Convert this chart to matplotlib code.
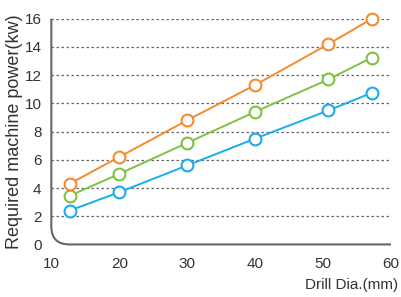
import matplotlib as mpl
mpl.use('agg')
import matplotlib.pyplot as plt
from matplotlib.path import Path
from matplotlib.patches import PathPatch

plt.rcParams['font.family'] = ['Liberation Sans', 'DejaVu Sans']

drill_dia = [12.7, 20, 30, 40, 50.8, 57.2]
power_high = [4.3, 6.2, 8.8, 11.3, 14.2, 16.0]
power_mid = [3.45, 5.0, 7.2, 9.4, 11.7, 13.25]
power_low = [2.4, 3.7, 5.6, 7.5, 9.5, 10.75]

xticks = [10, 20, 30, 40, 50, 60]
yticks = [0, 2, 4, 6, 8, 10, 12, 14, 16]

fig = plt.figure(figsize=(4.01, 2.97), dpi=100)
ax = fig.add_axes([0.128, 0.177, 0.847, 0.76])

ax.set_xlim(10, 60)
ax.set_ylim(0, 16)

for y in yticks[1:]:
    ax.axhline(y, color='#666666', lw=0.9, ls=(0, (2, 2)), zorder=1)

for vals, col in [(power_low, '#1bacec'), (power_mid, '#7dc242'), (power_high, '#f58a2e')]:
    ax.plot(drill_dia, vals, color=col, lw=1.4, marker='o', ms=8.5,
            mfc='white', mec=col, mew=1.5, zorder=3, clip_on=False)

for s in ax.spines.values():
    s.set_visible(False)

# axis lines with rounded bottom-left corner
rx, ry = 18 / 340, 18 / 226
verts = [(0, 1), (0, ry), (0, 0), (rx, 0), (1, 0)]
codes = [Path.MOVETO, Path.LINETO, Path.CURVE3, Path.CURVE3, Path.LINETO]
ax.add_patch(PathPatch(Path(verts, codes), transform=ax.transAxes, fill=False,
                       edgecolor='#666666', lw=1.5, clip_on=False, zorder=2))

ax.set_xticks(xticks)
ax.set_xticks(xticks[1:], minor=True)
ax.tick_params(axis='x', which='major', length=0, pad=9, labelsize=11, labelcolor='#333333')
ax.tick_params(axis='x', which='minor', length=7, width=1.2, color='#666666', direction='out')
ax.set_yticks(yticks)
ax.tick_params(axis='y', length=0, pad=7, labelsize=11, labelcolor='#333333')

ax.set_ylabel('Required machine power(kw)', fontsize=13, color='#333333', labelpad=1)
ax.text(1.022, -0.18, 'Drill Dia.(mm)', transform=ax.transAxes, ha='right', va='center',
        fontsize=11, color='#333333')

plt.savefig('out.png', dpi=100)
